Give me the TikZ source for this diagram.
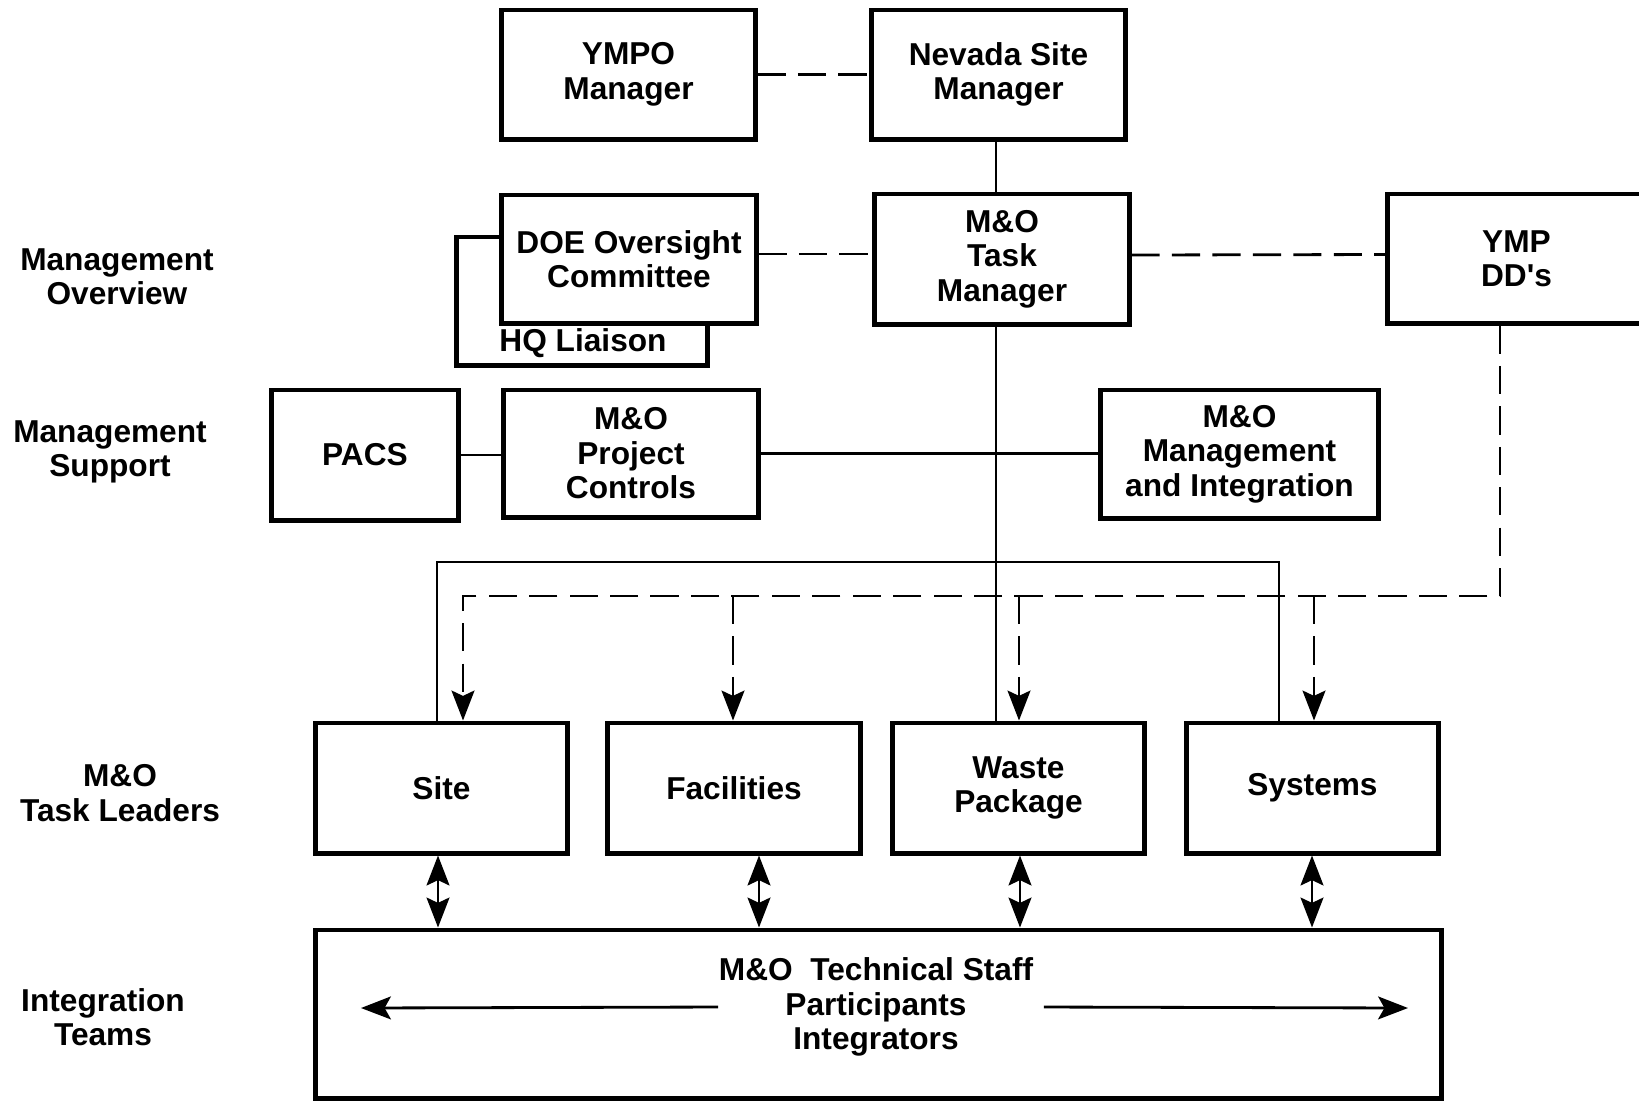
\documentclass[tikz,border=0pt]{standalone}
\usepackage{fontspec}
\setmainfont{Liberation Sans}
\usetikzlibrary{arrows.meta}
\usetikzlibrary{calc}

\begin{document}
\begin{tikzpicture}[x=0.01cm, y=-0.01cm,
  every node/.style={font=\fontsize{9}{9.8}\selectfont\bfseries},
  blk/.style={draw, line width=1.4pt, fill=white, align=center, inner sep=0pt},
  lbl/.style={align=center, inner sep=0pt},
  link/.style={line width=0.8pt},
  dsh/.style={line width=0.8pt, dash pattern=on 8pt off 3.5pt},
  >={Stealth[length=8.5pt,width=6.5pt,inset=1.5pt]}]

  \clip (0,0) rectangle (1639,1102);

  % top row
  \node[blk, minimum width=2.53cm, minimum height=1.29cm] (ympo) at (628.5,74.5) {YMPO\\Manager};
  \node[blk, minimum width=2.53cm, minimum height=1.29cm] (nevada) at (998.5,74.5) {Nevada Site\\Manager};

  % overview row
  \node[blk, minimum width=2.50cm, minimum height=1.28cm] (hq) at (582,301) {};
  \node[lbl] (hqtxt) at (583,343) {HQ Liaison};
  \node[blk, minimum width=2.54cm, minimum height=1.28cm] (doe) at (629,259) {DOE Oversight\\Committee};
  \node[blk, minimum width=2.54cm, minimum height=1.30cm] (taskmgr) at (1002,259) {M\&O\\Task\\Manager};
  \node[blk, minimum width=2.57cm, minimum height=1.29cm] (ympdd) at (1516.5,258.5) {YMP\\DD\textquotesingle s};

  % support row
  \node[blk, minimum width=1.86cm, minimum height=1.30cm] (pacs) at (365,455) {PACS};
  \node[blk, minimum width=2.54cm, minimum height=1.27cm] (projctl) at (631,453.5) {M\&O\\Project\\Controls};
  \node[blk, minimum width=2.77cm, minimum height=1.28cm] (mgmtint) at (1239.5,454) {M\&O\\Management\\and Integration};

  % task leaders
  \foreach \n/\x/\t in {site/441.5/Site, fac/734/Facilities, waste/1018.5/{Waste\\Package}, sys/1312.5/Systems}
    \node[blk, minimum width=2.52cm, minimum height=1.30cm] (\n) at (\x,788) {\t};

  \node[blk, minimum width=11.25cm, minimum height=1.68cm] (staff) at (878.5,1014) {};
  \node[lbl] (stafftxt) at (876,1007) {M\&O\ \ Technical Staff\\Participants\\Integrators};

  % row labels
  \node[lbl] (ovw) at (117,277) {Management\\Overview};
  \node[lbl] (spt) at (110,452) {Management\\Support};
  \node[lbl] (ldr) at (120,793) {M\&O\\Task Leaders};
  \node[lbl] (team) at (103,1017) {Integration\\Teams};

  \draw[dsh] (ympo.east) -- (nevada.west);
  \coordinate (spine) at (996,0);
  \draw[link] (nevada.south -| spine) -- (taskmgr.north -| spine);
  \draw[dsh] ([yshift=0.05cm]doe.east) -- ([yshift=0.05cm]taskmgr.west);
  \draw[dsh] ([yshift=0.04cm]taskmgr.east) -- ([yshift=0.04cm]ympdd.west);
  \draw[link] (pacs.east) -- (pacs.east -| projctl.west);
  \draw[link] (projctl.east) -- (projctl.east -| mgmtint.west);
  \draw[link] (taskmgr.south -| spine) -- (waste.north -| spine);

  % task manager to leaders
  \coordinate (brl) at (437,562);
  \coordinate (brr) at (1279,562);
  \draw[link] (site.north -| brl) -- (brl) -- (brr) -- (sys.north -| brr);

  % YMP DD's to leaders
  \coordinate (ddr) at (1500,596);
  \coordinate (ddl) at (463,596);
  \draw[dsh,->] (ympdd.south -| ddr) -- (ddr) -- (ddl) -- (site.north -| ddl);
  \foreach \n/\x in {fac/733, waste/1019, sys/1314}
    \draw[dsh,->] (\x,596) -- (\n.north -| \x,0);

  \foreach \n/\x in {site/438, fac/759, waste/1020, sys/1312}
    \draw[link,<->] (\n.south -| \x,0) -- (staff.north -| \x,0);

  \coordinate (aleft) at (361,1008);
  \coordinate (aright) at (1408,1008);
  \draw[link,-{Stealth[length=8.5pt,width=6.5pt,inset=1.8pt]}] (stafftxt.west) -- (aleft);
  \draw[link,-{Stealth[length=8.5pt,width=6.5pt,inset=1.8pt]}] ([xshift=0.1cm]stafftxt.east) -- (aright);
\end{tikzpicture}
\end{document}
